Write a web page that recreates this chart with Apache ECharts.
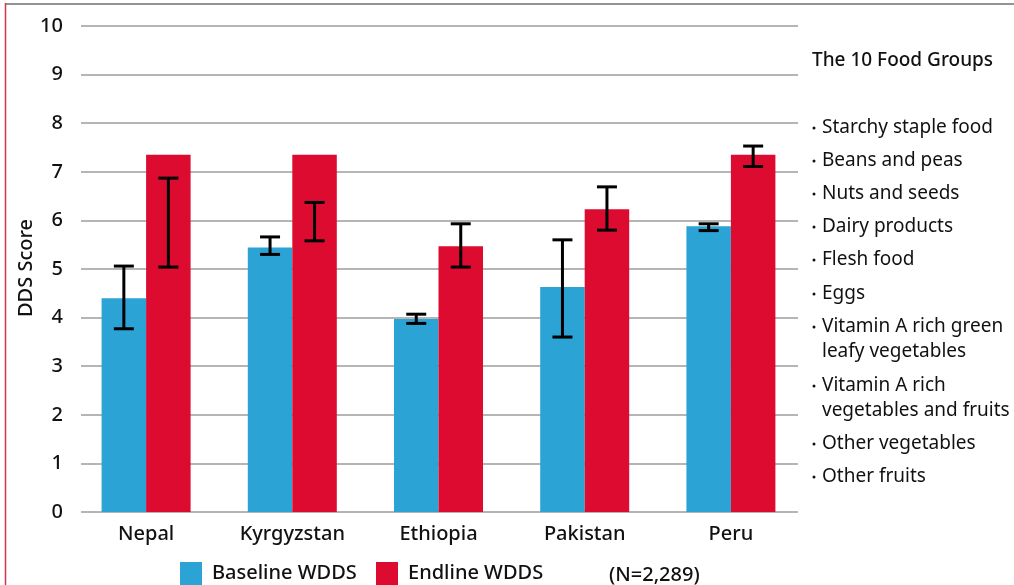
<!DOCTYPE html>
<html>
<head>
<meta charset="utf-8">
<script src="https://cdn.jsdelivr.net/npm/echarts@6/dist/echarts.min.js"></script>
<style>
  html, body { margin: 0; padding: 0; background: #fff; }
  #chart { width: 1014px; height: 585px; }
</style>
</head>
<body>
<div id="chart"></div>
<script>
// Dietary diversity scores by country, baseline vs endline
const countries = ['Nepal', 'Kyrgyzstan', 'Ethiopia', 'Pakistan', 'Peru'];
const baseline = [4.40, 5.44, 3.97, 4.63, 5.88];
const endline = [7.35, 7.35, 5.47, 6.23, 7.35];
// Error bar bounds (low, high)
const baselineLow = [3.77, 5.30, 3.88, 3.60, 5.79];
const baselineHigh = [5.06, 5.66, 4.07, 5.60, 5.93];
const endlineLow = [5.04, 5.58, 5.04, 5.80, 7.11];
const endlineHigh = [6.87, 6.37, 5.93, 6.69, 7.53];
const yTicks = [0, 1, 2, 3, 4, 5, 6, 7, 8, 9, 10];
const seriesNames = ['Baseline WDDS', 'Endline WDDS'];
const sampleNote = '(N=2,289)';
const yName = 'DDS Score';
const sideTitle = 'The 10 Food Groups';
const foodGroups = [
  ['Starchy staple food'],
  ['Beans and peas'],
  ['Nuts and seeds'],
  ['Dairy products'],
  ['Flesh food'],
  ['Eggs'],
  ['Vitamin A rich green', 'leafy vegetables'],
  ['Vitamin A rich', 'vegetables and fruits'],
  ['Other vegetables'],
  ['Other fruits']
];

const FONT = '"Noto Sans"';
const TEXT = '#111';
const BLUE = '#2ca3d5';
const RED = '#de0b31';
const BAR_W = 44.5;

const chart = echarts.init(document.getElementById('chart'));

function errorBars(low, high, side) {
  return {
    type: 'custom',
    xAxisIndex: 1,
    yAxisIndex: 1,
    z: 5,
    silent: true,
    data: low.map((l, i) => [i, l, high[i]]),
    renderItem: function (params, api) {
      const lo = api.coord([api.value(0), api.value(1)]);
      const hi = api.coord([api.value(0), api.value(2)]);
      const x = lo[0] + side * BAR_W / 2;
      const cap = 10;
      const style = { stroke: '#000', lineWidth: 3, fill: null };
      return {
        type: 'group',
        children: [
          { type: 'line', shape: { x1: x, y1: hi[1], x2: x, y2: lo[1] }, style: style },
          { type: 'line', shape: { x1: x - cap, y1: hi[1], x2: x + cap, y2: hi[1] }, style: style },
          { type: 'line', shape: { x1: x - cap, y1: lo[1], x2: x + cap, y2: lo[1] }, style: style }
        ]
      };
    }
  };
}

// Side panel listing the food groups
const sideText = [];
sideText.push({
  type: 'text', x: 812, y: 61,
  style: { text: sideTitle, font: '500 19px ' + FONT, fill: TEXT, textVerticalAlign: 'middle' }
});
const itemCenters = [126, 159, 192, 225, 258, 292, 325, 384, 442, 475];
foodGroups.forEach((lines, i) => {
  sideText.push({
    type: 'circle', shape: { cx: 814, cy: itemCenters[i] + 2, r: 1.5 },
    style: { fill: TEXT }
  });
  sideText.push({
    type: 'text', x: 822, y: itemCenters[i] - 10.5,
    style: { text: lines.join('\n'), font: '19px ' + FONT, fill: TEXT, lineHeight: 25 }
  });
});

const legendText = { fontFamily: 'Noto Sans', fontSize: 20, fontWeight: 500, color: TEXT, padding: [5, 0, 0, 5] };

chart.setOption({
  animation: false,
  backgroundColor: '#fff',
  grid: [
    { left: 81, right: 216, top: 26, bottom: 73 },
    { left: 73, right: 210, top: 26, bottom: 73 }
  ],
  legend: [
    {
      data: [seriesNames[0]], left: 180, top: 562, padding: 0,
      itemWidth: 22, itemHeight: 23, icon: 'rect', textStyle: legendText
    },
    {
      data: [seriesNames[1]], left: 376, top: 562, padding: 0,
      itemWidth: 22, itemHeight: 23, icon: 'rect', textStyle: legendText
    }
  ],
  xAxis: [
    { gridIndex: 0, type: 'value', min: 0, max: 1, show: false },
    {
      gridIndex: 1,
      type: 'category',
      data: countries,
      axisLine: { show: false },
      axisTick: { show: false },
      axisLabel: { fontFamily: 'Noto Sans', fontSize: 20, fontWeight: 500, color: TEXT, margin: 12 }
    }
  ],
  yAxis: [
    {
      gridIndex: 0,
      type: 'value',
      min: yTicks[0],
      max: yTicks[yTicks.length - 1],
      interval: 1,
      axisLine: { show: false },
      axisTick: { show: false },
      splitLine: { lineStyle: { color: '#b5b5b5', width: 2 } },
      axisLabel: { fontFamily: 'Noto Sans', fontSize: 20, fontWeight: 500, color: TEXT, margin: 18, padding: [6, 0, 0, 0] }
    },
    {
      gridIndex: 1,
      type: 'value',
      min: yTicks[0],
      max: yTicks[yTicks.length - 1],
      show: false
    }
  ],
  series: [
    {
      name: seriesNames[0], type: 'bar', xAxisIndex: 1, yAxisIndex: 1,
      data: baseline, barWidth: BAR_W, barGap: '0%',
      itemStyle: { color: BLUE }
    },
    {
      name: seriesNames[1], type: 'bar', xAxisIndex: 1, yAxisIndex: 1,
      data: endline, barWidth: BAR_W, barGap: '0%',
      itemStyle: { color: RED }
    },
    errorBars(baselineLow, baselineHigh, -1),
    errorBars(endlineLow, endlineHigh, 1)
  ],
  graphic: [
    { type: 'line', shape: { x1: 5, y1: 4, x2: 1014, y2: 4 }, style: { stroke: '#707070', lineWidth: 1.5 } },
    { type: 'line', shape: { x1: 5.5, y1: 3, x2: 5.5, y2: 585 }, style: { stroke: '#d1364f', lineWidth: 1.5 } },
    {
      type: 'text', x: 26, y: 268, rotation: Math.PI / 2,
      style: { text: yName, font: '500 20px ' + FONT, fill: TEXT, textAlign: 'center', textVerticalAlign: 'middle' }
    },
    {
      type: 'text', x: 609, y: 575,
      style: { text: sampleNote, font: '500 20px ' + FONT, fill: TEXT, textVerticalAlign: 'middle' }
    }
  ].concat(sideText)
});
</script>
</body>
</html>
